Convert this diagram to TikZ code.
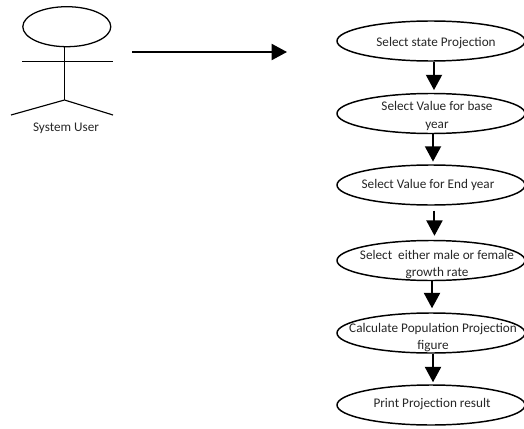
\documentclass[tikz,border=0pt]{standalone}
\usepackage{fontspec}
\setmainfont{Carlito}
\usetikzlibrary{arrows.meta,shapes.geometric}
\tikzset{
  oval/.style={draw=black,ellipse,line width=1.1pt,inner sep=0pt,minimum width=141pt,minimum height=30pt},
  lbl/.style={inner sep=0pt,align=center,font=\fontsize{9.9}{13}\selectfont,text=black!85},
  stick/.style={draw=black,line width=0.85pt},
  flow/.style={draw=black,line width=1.5pt,-{Triangle[length=11.5pt,width=12pt]}},
}
\begin{document}
\begin{tikzpicture}[x=0.75pt,y=-0.75pt]
\useasboundingbox (0,0) rectangle (524,428);
% actor
\node[draw=black,ellipse,line width=0.95pt,inner sep=0pt,minimum width=66pt,minimum height=30pt] (head) at (66.8,26.7) {};
\coordinate (hip) at (64.5,100);
\coordinate (neck) at (64.5,46.5);
\coordinate (armL) at (22,61.5);
\coordinate (armR) at (113,61.5);
\coordinate (legL) at (11,115);
\coordinate (legR) at (113,115);
\draw[stick] (neck) -- (hip);
\draw[stick] (armL) -- (armR);
\draw[stick] (legL) -- (hip) -- (legR);
\node[lbl] (user) at (66,128) {System User};
% main arrow
\coordinate (from) at (132,52);
\coordinate (to) at (287,52);
\draw[flow] (from) -- (to);
% ovals
\node[oval] (e1) at (431,41) {};
\node[oval] (e2) at (431,113.5) {};
\node[oval] (e3) at (431,185) {};
\node[oval] (e4) at (431,260.5) {};
\node[oval] (e5) at (431,333) {};
\node[oval] (e6) at (431,405) {};
% texts
\node[lbl] (t1) at (436,43) {Select state Projection};
\node[lbl] (t2) at (437,116) {Select Value for base\\year};
\node[lbl] (t3) at (428,185) {Select Value for End year};
\node[lbl] (t4) at (437,264.5) {Select\ \ either male or female\\growth rate};
\node[lbl] (t5) at (433,337.5) {Calculate Population Projection\\figure};
\node[lbl] (t6) at (432,404) {Print Projection result};
% arrows
\draw[flow] ([xshift=2.25pt]e1.south) -- ([xshift=2.25pt,yshift=2pt]e2.north);
\draw[flow] ([xshift=1.5pt]e2.south) -- ([xshift=1.5pt,yshift=2pt]e3.north);
\draw[flow,shorten <=3.75pt] ([xshift=2.6pt]e3.south) -- ([xshift=2.6pt,yshift=3pt]e4.north);
\draw[flow] ([xshift=0.75pt]e4.south) -- ([xshift=0.75pt,yshift=3pt]e5.north);
\draw[flow] ([xshift=1.5pt]e5.south) -- ([xshift=1.5pt,yshift=1.5pt]e6.north);
\end{tikzpicture}
\end{document}
